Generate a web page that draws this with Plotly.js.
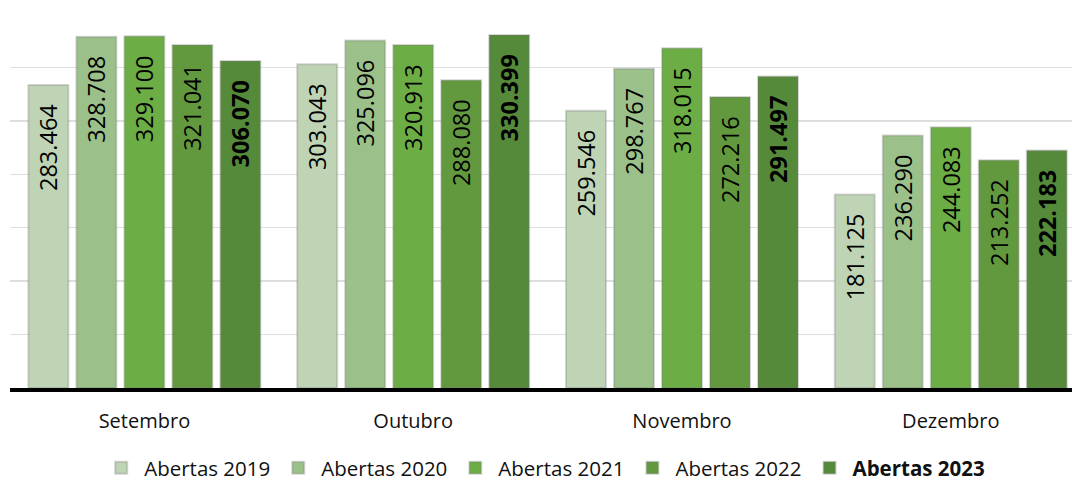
<!DOCTYPE html>
<html>
<head>
<meta charset="utf-8">
<script src="https://cdn.plot.ly/plotly-3.0.1.min.js"></script>
<style>html,body{margin:0;padding:0;background:#fff;}#chart{width:1072px;height:484px;}</style>
</head>
<body>
<div id="chart"></div>
<script>
const months = ["Setembro", "Outubro", "Novembro", "Dezembro"];
const seriesNames = ["Abertas 2019", "Abertas 2020", "Abertas 2021", "Abertas 2022", "Abertas 2023"];
const abertas2019 = [283464, 303043, 259546, 181125];
const abertas2020 = [328708, 325096, 298767, 236290];
const abertas2021 = [329100, 320913, 318015, 244083];
const abertas2022 = [321041, 288080, 272216, 213252];
const abertas2023 = [306070, 330399, 291497, 222183];
const seriesColors = ["#bed4b5", "#9bc08a", "#6dad45", "#63993e", "#558a3a"];

const allSeries = [abertas2019, abertas2020, abertas2021, abertas2022, abertas2023];
const FONT = "Open Sans, Noto Sans, sans-serif";

const traces = allSeries.map((vals, i) => {
  const bold = i === 4;
  return {
    type: "bar",
    name: bold ? "<b>" + seriesNames[i] + "</b>" : seriesNames[i],
    x: months,
    y: vals,
    marker: { color: seriesColors[i], line: { color: "rgba(120,120,120,0.30)", width: 2 } },
    texttemplate: "%{y:,.0f}\u00a0\u00a0\u2009",
    textposition: "inside",
    insidetextanchor: "end",
    textangle: -90,
    constraintext: "none",
    textfont: { family: FONT, size: 23.5, color: "#000", weight: bold ? 700 : 400 },
    hoverinfo: "skip"
  };
});

const layout = {
  width: 1072,
  height: 484,
  margin: { l: 10, r: 0, t: 14, b: 95.5, pad: 0, autoexpand: false },
  paper_bgcolor: "#fff",
  plot_bgcolor: "#fff",
  separators: ",.",
  barmode: "group",
  bargap: 0.107,
  bargroupgap: 0.167,
  font: { family: FONT, color: "#111" },
  xaxis: {
    type: "category",
    range: [-0.5, 3.451],
    showline: true,
    linecolor: "#000",
    linewidth: 4,
    ticks: "",
    showgrid: false,
    tickfont: { family: FONT, size: 20, color: "#111" },
    ticklabelstandoff: 12,
    fixedrange: true
  },
  yaxis: {
    range: [0, 350000],
    dtick: 50000,
    tick0: 0,
    showticklabels: false,
    showgrid: true,
    gridcolor: "#dedede",
    gridwidth: 1.5,
    zeroline: false,
    showline: false,
    ticks: "",
    fixedrange: true
  },
  legend: {
    orientation: "h",
    x: 0.503,
    xanchor: "center",
    y: -0.214,
    yanchor: "middle",
    itemwidth: 36,
    font: { family: FONT, size: 20.5, color: "#111" },
    traceorder: "normal",
    bgcolor: "rgba(0,0,0,0)"
  },
  showlegend: true
};

Plotly.newPlot("chart", traces, layout, { displayModeBar: false, staticPlot: true });
</script>
</body>
</html>
